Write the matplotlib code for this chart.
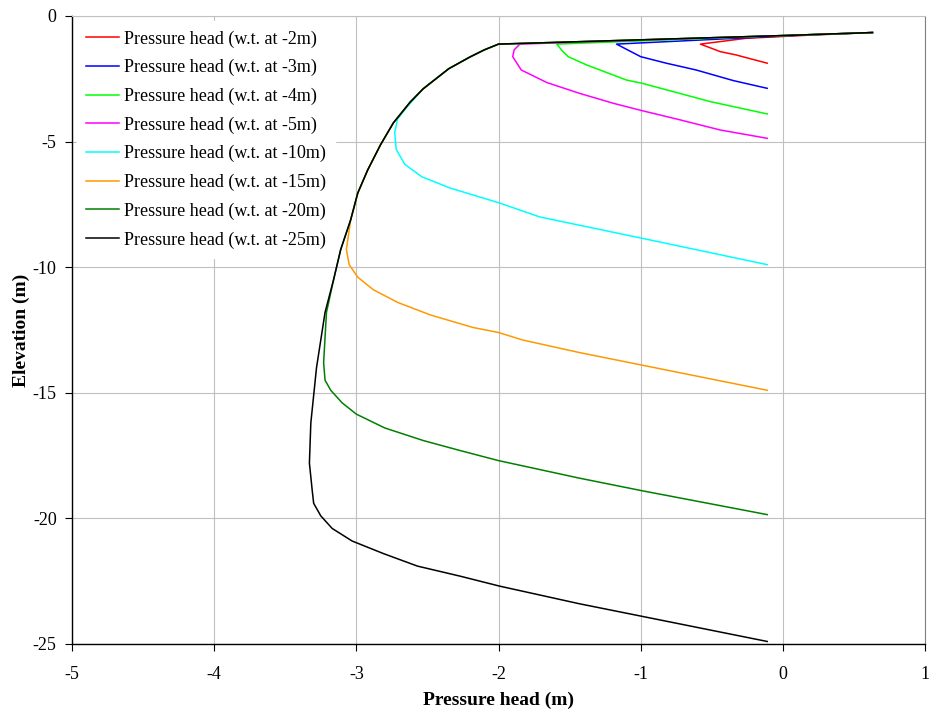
import matplotlib.pyplot as plt

plt.rcParams['font.family'] = ['Liberation Serif', 'DejaVu Serif']
plt.rcParams['axes.unicode_minus'] = False

# pressure head profiles, one per water table depth
labels = ['Pressure head (w.t. at -2m)', 'Pressure head (w.t. at -3m)',
          'Pressure head (w.t. at -4m)', 'Pressure head (w.t. at -5m)',
          'Pressure head (w.t. at -10m)', 'Pressure head (w.t. at -15m)',
          'Pressure head (w.t. at -20m)', 'Pressure head (w.t. at -25m)']
colors = ['#FF0000', '#0000FF', '#00FF00', '#FF00FF',
          '#00FFFF', '#FF9900', '#008000', '#000000']

x_wt2 = [0.63, 0.2, -0.26, -0.58, -0.44, -0.33, -0.11]
y_wt2 = [-0.66, -0.76, -0.89, -1.12, -1.42, -1.55, -1.88]

x_wt3 = [0.63, 0.1, -1.17, -1.0, -0.82, -0.61, -0.35, -0.11]
y_wt3 = [-0.66, -0.77, -1.12, -1.62, -1.88, -2.15, -2.57, -2.88]

x_wt4 = [0.63, 0.0, -1.59, -1.55, -1.51, -1.38, -1.10, -0.99, -0.51, -0.11]
y_wt4 = [-0.66, -0.78, -1.12, -1.4, -1.62, -1.95, -2.55, -2.68, -3.41, -3.90]

x_wt5 = [0.63, 0.0, -1.85, -1.89, -1.90, -1.84, -1.66, -1.43, -1.19, -0.99, -0.72, -0.44, -0.11]
y_wt5 = [-0.66, -0.78, -1.12, -1.35, -1.62, -2.15, -2.65, -3.08, -3.48, -3.77, -4.14, -4.54, -4.87]

x_wt10 = [0.63, 0.0, -2.0, -2.10, -2.20, -2.35, -2.53, -2.64, -2.71, -2.73, -2.72,
          -2.66, -2.54, -2.34, -1.99, -1.71, -0.99, -0.11]
y_wt10 = [-0.66, -0.78, -1.12, -1.35, -1.63, -2.1, -2.9, -3.6, -4.1, -4.65, -5.3,
          -5.9, -6.4, -6.85, -7.45, -8.0, -8.85, -9.9]

x_wt15 = [0.63, 0.0, -2.0, -2.10, -2.20, -2.35, -2.53, -2.62, -2.74, -2.83, -2.92,
          -2.99, -3.04, -3.07, -3.05, -2.99, -2.88, -2.71, -2.48, -2.18, -2.0,
          -1.83, -1.43, -0.99, -0.11]
y_wt15 = [-0.66, -0.78, -1.12, -1.35, -1.63, -2.1, -2.9, -3.42, -4.26, -5.13, -6.13,
          -7.05, -8.12, -9.3, -9.9, -10.4, -10.9, -11.4, -11.9, -12.4, -12.6,
          -12.9, -13.4, -13.9, -14.9]

x_wt20 = [0.63, 0.0, -2.0, -2.10, -2.20, -2.35, -2.53, -2.62, -2.74, -2.83, -2.92,
          -2.99, -3.04, -3.11, -3.16, -3.21, -3.23, -3.22, -3.18, -3.10, -3.0,
          -2.80, -2.53, -2.27, -2.0, -1.43, -0.99, -0.11]
y_wt20 = [-0.66, -0.78, -1.12, -1.35, -1.63, -2.1, -2.9, -3.42, -4.26, -5.13, -6.13,
          -7.05, -8.12, -9.3, -10.5, -11.8, -13.8, -14.5, -14.9, -15.4, -15.85,
          -16.4, -16.9, -17.3, -17.7, -18.4, -18.9, -19.85]

x_wt25 = [0.63, 0.0, -2.0, -2.10, -2.20, -2.35, -2.53, -2.62, -2.74, -2.83, -2.92,
          -2.99, -3.04, -3.11, -3.16, -3.22, -3.28, -3.32, -3.33, -3.31, -3.30,
          -3.25, -3.17, -3.03, -2.81, -2.57, -2.27, -1.99, -1.43, -0.99, -0.11]
y_wt25 = [-0.66, -0.78, -1.12, -1.35, -1.63, -2.1, -2.9, -3.42, -4.26, -5.13, -6.13,
          -7.05, -8.12, -9.3, -10.5, -11.8, -14.0, -16.2, -17.8, -18.9, -19.4,
          -19.9, -20.4, -20.9, -21.4, -21.9, -22.3, -22.7, -23.4, -23.9, -24.9]

xs = [x_wt2, x_wt3, x_wt4, x_wt5, x_wt10, x_wt15, x_wt20, x_wt25]
ys = [y_wt2, y_wt3, y_wt4, y_wt5, y_wt10, y_wt15, y_wt20, y_wt25]

fig = plt.figure(figsize=(9.31, 7.13), dpi=100)
ax = fig.add_axes([0.0773, 0.0968, 0.9163, 0.8808])

for x, y, c, lab in zip(xs, ys, colors, labels):
    ax.plot(x, y, color=c, linewidth=1.1, label=lab)

ax.set_xlim(-5, 1)
ax.set_ylim(-25, 0)
ax.set_xticks(range(-5, 2))
ax.set_yticks(range(-25, 1, 5))
ax.grid(True, color='#C0C0C0', linewidth=0.8)
ax.set_axisbelow(True)

ax.spines['top'].set_color('#C0C0C0')
ax.spines['right'].set_color('#808080')
ax.spines['left'].set_linewidth(1.0)
ax.spines['bottom'].set_linewidth(1.0)
ax.tick_params(direction='out', length=5, width=0.8, labelsize=13)
ax.tick_params(axis='x', pad=11)
ax.tick_params(axis='y', pad=6)

ax.set_xlabel('Pressure head (m)', fontsize=14, fontweight='bold', labelpad=6)
ax.set_ylabel('Elevation (m)', fontsize=14, fontweight='bold', labelpad=2)

leg = ax.legend(loc='upper left', fontsize=13, frameon=True, facecolor='white',
                edgecolor='white', framealpha=1.0, fancybox=False,
                handlelength=1.8, handletextpad=0.3, labelspacing=0.63,
                borderaxespad=0.3, borderpad=0.5)

fig.savefig('out.png', dpi=100)
